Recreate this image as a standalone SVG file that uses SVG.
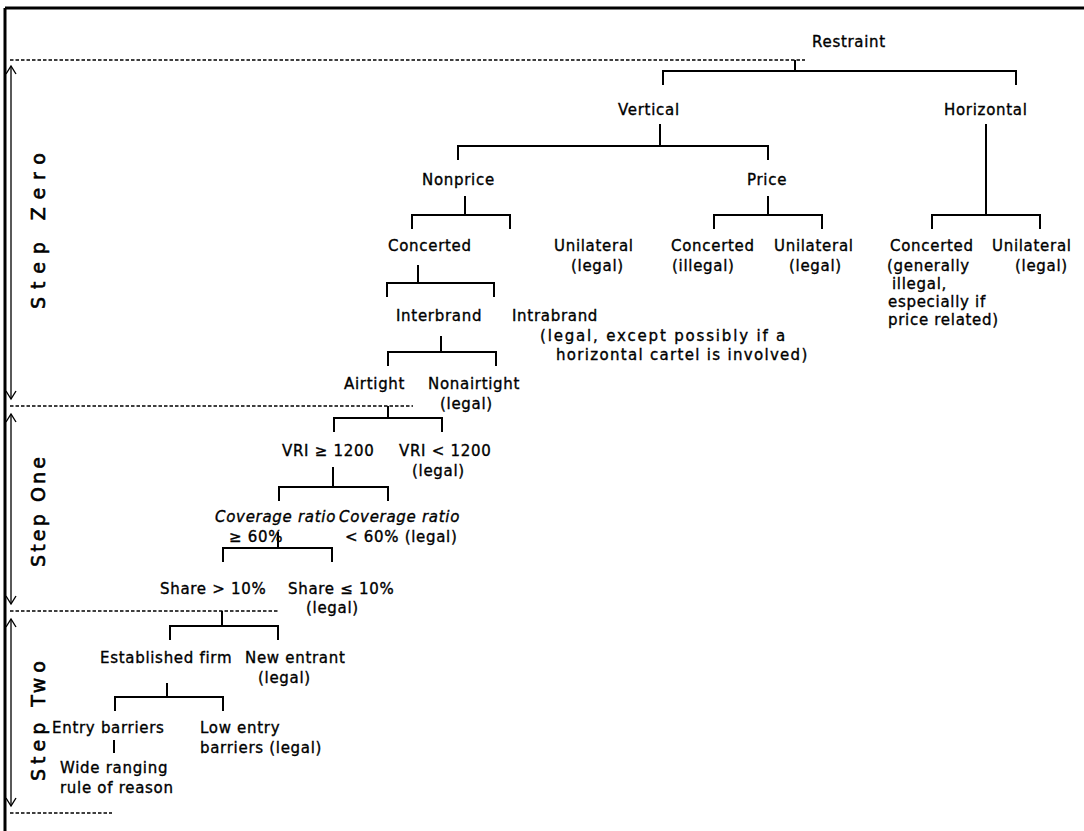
<svg xmlns="http://www.w3.org/2000/svg" width="1084" height="831" viewBox="0 0 1084 831">
<style>
text{font-family:"DejaVu Sans","Liberation Sans",sans-serif;font-size:15px;letter-spacing:0.7px;fill:#000;stroke:#000;stroke-width:0.35}
.it{font-style:italic}
.br{fill:none;stroke:#000;stroke-width:2}
.dash{stroke:#000;stroke-width:1.6;stroke-dasharray:3.5 2}
.arr{stroke:#000;stroke-width:1.3;marker-start:url(#ah);marker-end:url(#ah)}
.step{font-size:19px;letter-spacing:0;stroke-width:0.6}
</style>
<defs>
<marker id="ah" markerWidth="12" markerHeight="12" refX="0" refY="0" orient="auto-start-reverse" markerUnits="userSpaceOnUse" viewBox="-10 -6 12 12" overflow="visible">
<path d="M-8,-5 L0,0 L-8,5" fill="none" stroke="#000" stroke-width="1.4"/>
</marker>
</defs>
<rect width="1084" height="831" fill="#fff"/>
<g id="frame">
<line x1="5" y1="8" x2="1084" y2="8" stroke="#000" stroke-width="3"/>
<line x1="5" y1="8" x2="5" y2="831" stroke="#000" stroke-width="3"/>
</g>
<g id="steps">
<line class="dash" x1="10" y1="60" x2="805" y2="60"/>
<line class="dash" x1="10" y1="406" x2="413" y2="406"/>
<line class="dash" x1="10" y1="611" x2="278" y2="611"/>
<line class="dash" x1="10" y1="813" x2="112" y2="813"/>
<line class="arr" x1="11" y1="66" x2="11" y2="399"/>
<line class="arr" x1="11" y1="414" x2="11" y2="604"/>
<line class="arr" x1="11" y1="619" x2="11" y2="806"/>
<text class="step" transform="translate(45,231) rotate(-90)" text-anchor="middle" textLength="156" lengthAdjust="spacing">Step Zero</text>
<text class="step" transform="translate(45,512) rotate(-90)" text-anchor="middle" textLength="110" lengthAdjust="spacing">Step One</text>
<text class="step" transform="translate(45,721) rotate(-90)" text-anchor="middle" textLength="120" lengthAdjust="spacing">Step Two</text>
</g>
<g id="connectors">
<path class="br" d="M795,60 V71 M663,85 V71 H1016 V85"/>
<path class="br" d="M660,124 V146 M458,160 V146 H768 V160"/>
<path class="br" d="M986,124 V215 M932,229 V215 H1040 V229"/>
<path class="br" d="M465,196 V215 M412,229 V215 H510 V229"/>
<path class="br" d="M768,196 V215 M714,229 V215 H822 V229"/>
<path class="br" d="M418,265 V283 M387,297 V283 H494 V297"/>
<path class="br" d="M441,336 V352 M388,366 V352 H496 V366"/>
<path class="br" d="M388,406 V418 M334,432 V418 H442 V432"/>
<path class="br" d="M333,467 V487 M279,501 V487 H388 V501"/>
<path class="br" d="M278,532 V548 M223,562 V548 H332 V562"/>
<path class="br" d="M222,611 V626 M170,640 V626 H278 V640"/>
<path class="br" d="M167,683 V697 M115,711 V697 H223 V711"/>
<path class="br" d="M114,740 V753"/>
</g>
<g id="n-restraint"><text x="812" y="47">Restraint</text></g>
<g id="n-vertical"><text x="618" y="115">Vertical</text></g>
<g id="n-horizontal"><text x="944" y="115">Horizontal</text></g>
<g id="n-nonprice"><text x="422" y="185">Nonprice</text></g>
<g id="n-price"><text x="747" y="185">Price</text></g>
<g id="n-np-concerted"><text x="388" y="251">Concerted</text></g>
<g id="n-np-unilateral"><text x="554" y="251">Unilateral</text><text x="571" y="271">(legal)</text></g>
<g id="n-p-concerted"><text x="671" y="251">Concerted</text><text x="672" y="271">(illegal)</text></g>
<g id="n-p-unilateral"><text x="774" y="251">Unilateral</text><text x="789" y="271">(legal)</text></g>
<g id="n-h-concerted"><text x="890" y="251">Concerted</text><text x="887" y="271">(generally</text><text x="892" y="289">illegal,</text><text x="888" y="307">especially if</text><text x="888" y="325">price related)</text></g>
<g id="n-h-unilateral"><text x="992" y="251">Unilateral</text><text x="1015" y="271">(legal)</text></g>
<g id="n-interbrand"><text x="396" y="321">Interbrand</text></g>
<g id="n-intrabrand"><text x="512" y="321">Intrabrand</text><text x="540" y="341" textLength="246" lengthAdjust="spacing">(legal, except possibly if a</text><text x="556" y="360" textLength="252" lengthAdjust="spacing">horizontal cartel is involved)</text></g>
<g id="n-airtight"><text x="344" y="389">Airtight</text></g>
<g id="n-nonairtight"><text x="428" y="389">Nonairtight</text><text x="440" y="409">(legal)</text></g>
<g id="n-vri-high"><text x="282" y="456">VRI ≥ 1200</text></g>
<g id="n-vri-low"><text x="399" y="456">VRI &lt; 1200</text><text x="412" y="476">(legal)</text></g>
<g id="n-cov-high"><text class="it" x="215" y="522">Coverage ratio</text><text x="229" y="542">≥ 60%</text></g>
<g id="n-cov-low"><text class="it" x="339" y="522">Coverage ratio</text><text x="345" y="542">&lt; 60% (legal)</text></g>
<g id="n-share-high"><text x="160" y="594">Share &gt; 10%</text></g>
<g id="n-share-low"><text x="288" y="594">Share ≤ 10%</text><text x="306" y="613">(legal)</text></g>
<g id="n-established"><text x="100" y="663">Established firm</text></g>
<g id="n-newentrant"><text x="245" y="663">New entrant</text><text x="258" y="683">(legal)</text></g>
<g id="n-entry"><text x="52" y="733">Entry barriers</text></g>
<g id="n-lowentry"><text x="200" y="733">Low entry</text><text x="200" y="753">barriers (legal)</text></g>
<g id="n-rule"><text x="60" y="773">Wide ranging</text><text x="60" y="793">rule of reason</text></g>
</svg>
